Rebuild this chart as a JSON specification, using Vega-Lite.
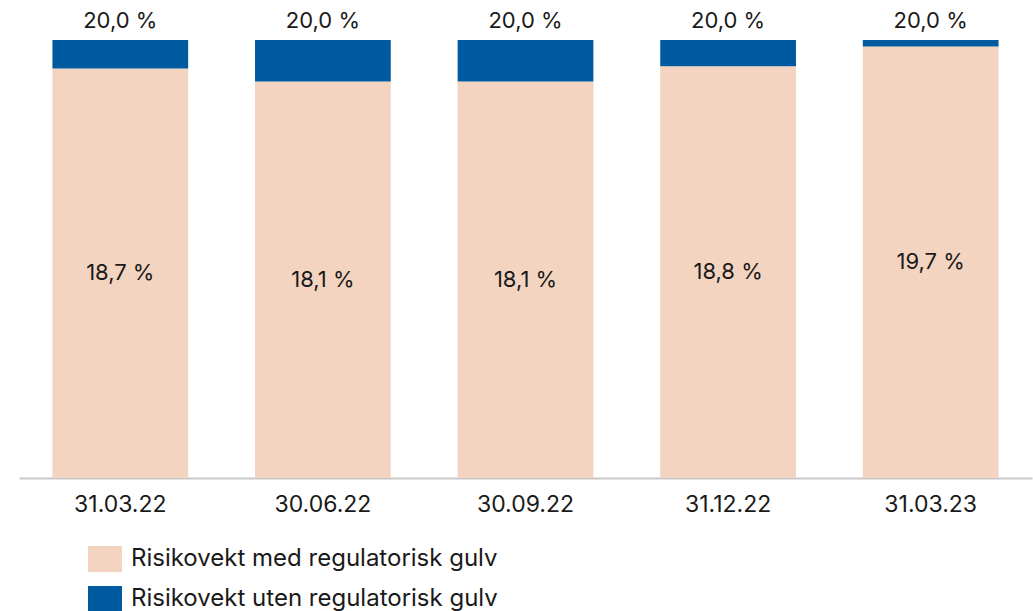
{
  "$schema": "https://vega.github.io/schema/vega-lite/v6.json",
  "autosize": "none",
  "width": 1013,
  "height": 438,
  "padding": {"left": 19, "top": 40, "right": 1, "bottom": 133},
  "background": "white",
  "data": {
    "values": [
      {"dato": "31.03.22", "serie": "Risikovekt med regulatorisk gulv", "verdi": 18.7, "ord": 0},
      {"dato": "31.03.22", "serie": "Risikovekt uten regulatorisk gulv", "verdi": 1.3, "ord": 1},
      {"dato": "30.06.22", "serie": "Risikovekt med regulatorisk gulv", "verdi": 18.1, "ord": 0},
      {"dato": "30.06.22", "serie": "Risikovekt uten regulatorisk gulv", "verdi": 1.9, "ord": 1},
      {"dato": "30.09.22", "serie": "Risikovekt med regulatorisk gulv", "verdi": 18.1, "ord": 0},
      {"dato": "30.09.22", "serie": "Risikovekt uten regulatorisk gulv", "verdi": 1.9, "ord": 1},
      {"dato": "31.12.22", "serie": "Risikovekt med regulatorisk gulv", "verdi": 18.8, "ord": 0},
      {"dato": "31.12.22", "serie": "Risikovekt uten regulatorisk gulv", "verdi": 1.2, "ord": 1},
      {"dato": "31.03.23", "serie": "Risikovekt med regulatorisk gulv", "verdi": 19.7, "ord": 0},
      {"dato": "31.03.23", "serie": "Risikovekt uten regulatorisk gulv", "verdi": 0.3, "ord": 1}
    ]
  },
  "encoding": {
    "x": {
      "field": "dato",
      "type": "nominal",
      "sort": null,
      "scale": {"paddingInner": 0.33, "paddingOuter": 0.165},
      "axis": {
        "title": null,
        "ticks": false,
        "labelAngle": 0,
        "labelFont": "Inter",
        "labelFontSize": 23,
        "labelColor": "#1a1a1a",
        "labelPadding": 15,
        "domainColor": "#c8c8c8",
        "domainWidth": 2,
        "grid": false
      }
    }
  },
  "layer": [
    {
      "mark": {"type": "bar"},
      "encoding": {
        "y": {"field": "verdi", "type": "quantitative", "stack": "zero", "scale": {"domain": [0, 20], "nice": false, "zero": true}, "axis": null},
        "color": {
          "field": "serie",
          "type": "nominal",
          "scale": {
            "domain": ["Risikovekt med regulatorisk gulv", "Risikovekt uten regulatorisk gulv"],
            "range": ["#F2D4C0", "#005AA0"]
          },
          "legend": {
            "title": null,
            "orient": "none",
            "legendX": 69,
            "legendY": 502,
            "direction": "vertical",
            "symbolType": "M-1,-0.76L1,-0.76L1,0.76L-1,0.76Z",
            "symbolSize": 1156,
            "symbolStrokeWidth": 0,
            "labelFont": "Inter",
            "labelFontSize": 24,
            "labelColor": "#1a1a1a",
            "labelOffset": 9,
            "rowPadding": 10,
            "padding": 0,
            "labelLimit": 600
          }
        },
        "order": {"field": "ord", "type": "quantitative", "sort": "ascending"}
      }
    },
    {
      "transform": [
        {"filter": "datum.ord == 0"},
        {"calculate": "datum.verdi / 2", "as": "midt"},
        {"calculate": "replace(format(datum.verdi, '.1f'), '.', ',') + ' %'", "as": "tekst"}
      ],
      "mark": {"type": "text", "font": "Inter", "fontSize": 22, "color": "#1a1a1a", "baseline": "middle"},
      "encoding": {
        "y": {"field": "midt", "type": "quantitative"},
        "text": {"field": "tekst", "type": "nominal"}
      }
    },
    {
      "transform": [
        {"aggregate": [{"op": "sum", "field": "verdi", "as": "sum"}], "groupby": ["dato"]},
        {"calculate": "replace(format(datum.sum, '.1f'), '.', ',') + ' %'", "as": "tekst"}
      ],
      "mark": {"type": "text", "font": "Inter", "fontSize": 22, "color": "#1a1a1a", "baseline": "alphabetic", "dy": -12},
      "encoding": {
        "y": {"field": "sum", "type": "quantitative"},
        "text": {"field": "tekst", "type": "nominal"}
      }
    }
  ],
  "config": {
    "view": {"stroke": null}
  }
}
